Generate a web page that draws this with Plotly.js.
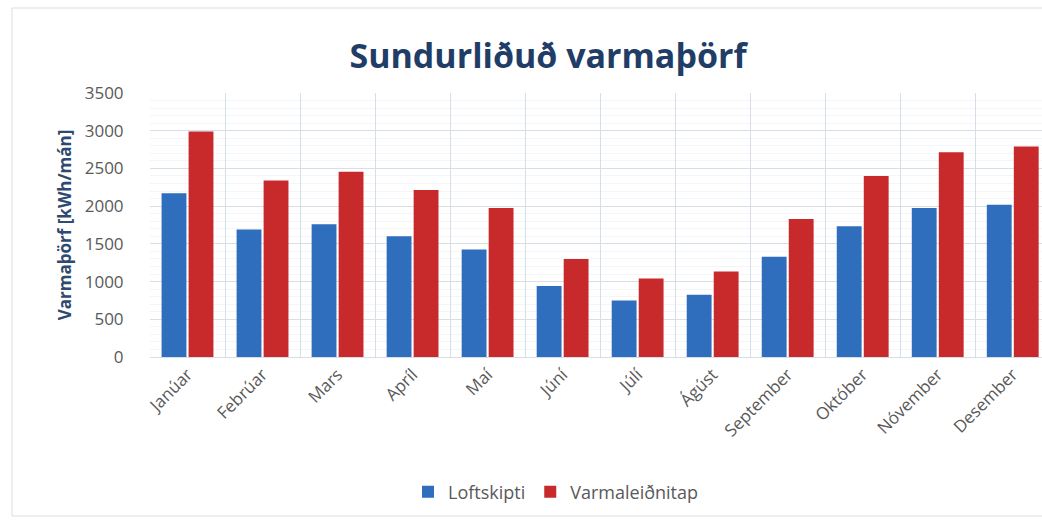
<!DOCTYPE html>
<html>
<head>
<meta charset="utf-8">
<script src="https://cdn.plot.ly/plotly-3.0.1.min.js"></script>
<style>
  html, body { margin: 0; padding: 0; background: #ffffff; }
  #chart { width: 1042px; height: 520px; }
</style>
</head>
<body>
<div id="chart"></div>
<script>
const months = ["Janúar", "Febrúar", "Mars", "Apríl", "Maí", "Júní", "Júlí", "Ágúst", "September", "Október", "Nóvember", "Desember"];
const loftskipti = [2170, 1690, 1760, 1600, 1425, 940, 750, 825, 1330, 1735, 1975, 2020];
const varmaleidnitap = [2990, 2340, 2455, 2215, 1975, 1300, 1040, 1135, 1830, 2400, 2715, 2790];
const seriesNames = ["Loftskipti", "Varmaleiðnitap"];
const yTicks = [0, 500, 1000, 1500, 2000, 2500, 3000, 3500];

const W = 1042, H = 520;
const mL = 150, mR = 0, mT = 93, mB = 163;
const pw = W - mL - mR, ph = H - mT - mB;
const px = v => (v - mL) / pw;
const py = v => (H - mB - v) / ph;

const traces = [
  {
    type: "bar", name: seriesNames[0], x: months, y: loftskipti,
    marker: { color: "#2f6dbd", line: { width: 0 } }
  },
  {
    type: "bar", name: seriesNames[1], x: months, y: varmaleidnitap,
    marker: { color: "#c8292b", line: { width: 0 } }
  }
];

const layout = {
  width: W, height: H,
  margin: { l: mL, r: mR, t: mT, b: mB, pad: 0 },
  paper_bgcolor: "#ffffff",
  plot_bgcolor: "#ffffff",
  font: { family: "Open Sans, sans-serif", color: "#595959" },
  title: {
    text: "<b>Sundurliðuð varmaþörf</b>",
    font: { family: "Open Sans, sans-serif", size: 34, color: "#1f3d66" },
    xref: "container", x: 548 / W, xanchor: "center",
    yref: "container", y: 1 - 56 / H, yanchor: "middle"
  },
  barmode: "group",
  bargap: 0.28,
  bargroupgap: 0.08,
  xaxis: {
    type: "category",
    range: [-0.5, (W - mL) / (pw / 11.89) - 0.5],
    tickson: "boundaries",
    showgrid: true, gridcolor: "#d6dee8", gridwidth: 1,
    showline: true, linecolor: "#d6dee8",
    ticks: "", tickangle: -45,
    tickfont: { family: "Open Sans, sans-serif", size: 17, color: "#595959" },
    zeroline: false, fixedrange: true
  },
  yaxis: {
    range: [0, 3500],
    tickvals: yTicks,
    ticktext: yTicks.map(String),
    showgrid: true, gridcolor: "#d6dee8", gridwidth: 1,
    minor: { dtick: 100, showgrid: true, gridcolor: "#f3f5f9", gridwidth: 1 },
    zeroline: false, showline: false,
    ticks: "outside", ticklen: 22, tickcolor: "rgba(0,0,0,0)",
    tickfont: { family: "Open Sans, sans-serif", size: 17, color: "#595959" },
    title: {
      text: "<b>Varmaþörf [kWh/mán]</b>",
      font: { family: "Open Sans, sans-serif", size: 17, color: "#2e4a6e" },
      standoff: 8
    },
    fixedrange: true
  },
  showlegend: true,
  legend: {
    orientation: "h",
    x: px(556), xanchor: "center",
    y: py(492), yanchor: "middle",
    font: { family: "Open Sans, sans-serif", size: 18, color: "#595959" },
    itemwidth: 30, tracegroupgap: 0,
    bgcolor: "rgba(0,0,0,0)"
  },
  shapes: [
    {
      type: "rect", xref: "paper", yref: "paper", layer: "below",
      x0: px(12), x1: px(1100), y0: py(516), y1: py(8),
      line: { color: "#d9dde3", width: 1 }, fillcolor: "rgba(0,0,0,0)"
    }
  ]
};

Plotly.newPlot("chart", traces, layout, { displayModeBar: false, staticPlot: true });
</script>
</body>
</html>
